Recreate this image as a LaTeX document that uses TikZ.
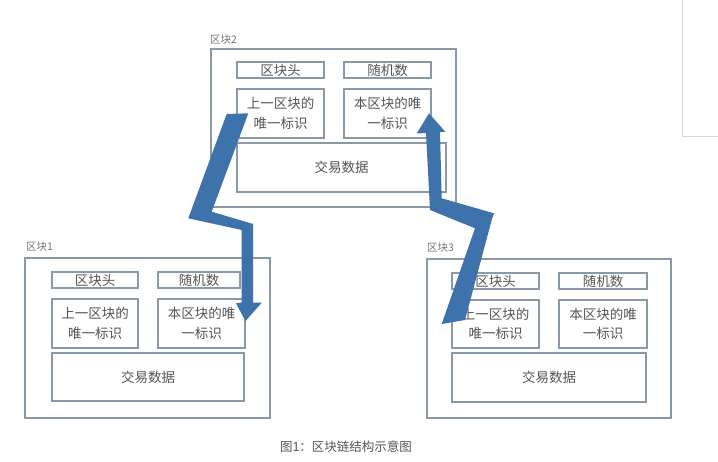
\documentclass[tikz,border=0pt]{standalone}
\usepackage{fontspec}
\newfontfamily\cjk{Noto Sans CJK SC}
\definecolor{boxline}{RGB}{138,152,168}
\definecolor{txt}{RGB}{85,85,85}
\definecolor{arrowblue}{RGB}{62,114,170}
\definecolor{faint}{RGB}{215,215,215}
\begin{document}
\begin{tikzpicture}[x=1pt,y=-1pt,
  box/.style={draw=boxline,line width=1.2pt,rectangle,inner sep=0pt,align=center,
     font=\cjk\fontsize{13.5}{19.5}\selectfont,text=txt},
  outer/.style={draw=boxline,line width=1.2pt,rectangle,inner sep=0pt},
  blabel/.style={anchor=west,inner sep=0pt,font=\cjk\fontsize{10.5}{12}\selectfont,text=txt!80},
  bigarrow/.style={fill=arrowblue,draw=none}]
\useasboundingbox (0,0) rectangle (718,462);
\fill[white] (0,0) rectangle (718,462);
\draw[faint,line width=1pt] (682,0) -- (682,137) -- (718,137);
% Block 2
\node[outer,minimum width=245pt,minimum height=158pt] (b2) at (333.5,128) {};
\node[blabel] (b2l) at (210,40) {区块2};
\node[box,minimum width=87pt,minimum height=16pt] (b2h) at (280.5,70) {区块头};
\node[box,minimum width=87pt,minimum height=16pt] (b2r) at (387.5,70) {随机数};
\node[box,minimum width=87pt,minimum height=49pt] (b2p) at (280.5,113.5) {上一区块的\\唯一标识};
\node[box,minimum width=87pt,minimum height=49pt] (b2s) at (387.5,113.5) {本区块的唯\\一标识};
\node[box,minimum width=209pt,minimum height=49pt] (b2d) at (341.5,167.5) {交易数据};
% Block 1
\node[outer,minimum width=245pt,minimum height=160pt] (b1) at (147.5,338) {};
\node[blabel] (b1l) at (26,247) {区块1};
\node[box,minimum width=86pt,minimum height=16pt] (b1h) at (95,280) {区块头};
\node[box,minimum width=82pt,minimum height=16pt] (b1r) at (199,280) {随机数};
\node[box,minimum width=86pt,minimum height=49pt] (b1p) at (95,323.5) {上一区块的\\唯一标识};
\node[box,minimum width=87pt,minimum height=49pt] (b1s) at (201.5,323.5) {本区块的唯\\一标识};
\node[box,minimum width=192pt,minimum height=48pt] (b1d) at (148,377) {交易数据};
% Block 3
\node[outer,minimum width=244pt,minimum height=159pt] (b3) at (549,338.5) {};
\node[blabel] (b3l) at (427,248) {区块3};
\node[box,minimum width=87pt,minimum height=16pt] (b3h) at (495.5,281) {区块头};
\node[box,minimum width=88pt,minimum height=16pt] (b3r) at (603,281) {随机数};
\node[box,minimum width=87pt,minimum height=48pt] (b3p) at (495.5,324) {上一区块的\\唯一标识};
\node[box,minimum width=88pt,minimum height=48pt] (b3s) at (603,324) {本区块的唯\\一标识};
\node[box,minimum width=194pt,minimum height=49pt] (b3d) at (549,377.5) {交易数据};
% Arrow from block 2 down to block 1
\fill[bigarrow] (226.7,114) -- (188.3,218.3) -- (241.7,230) -- (241.7,302.5) -- (236,303.3)
  -- (245.5,321) -- (261.7,302.7) -- (253,302.7) -- (253,224) -- (211.7,211.7)
  -- (248.3,113.3) -- cycle;
% Arrow from block 3 up to block 2
\fill[bigarrow] (429,113.3) -- (445.5,132) -- (440,132) -- (441.7,198.3) -- (494,213.3)
  -- (491.7,220) -- (465,320) -- (441.7,324) -- (475,228.3) -- (430,210) -- (426,133)
  -- (416.7,133.5) -- cycle;
% Caption
\node[inner sep=0pt,font=\cjk\fontsize{12.5}{14}\selectfont,text=txt] (cap) at (346,447) {图1：区块链结构示意图};
\end{tikzpicture}
\end{document}
